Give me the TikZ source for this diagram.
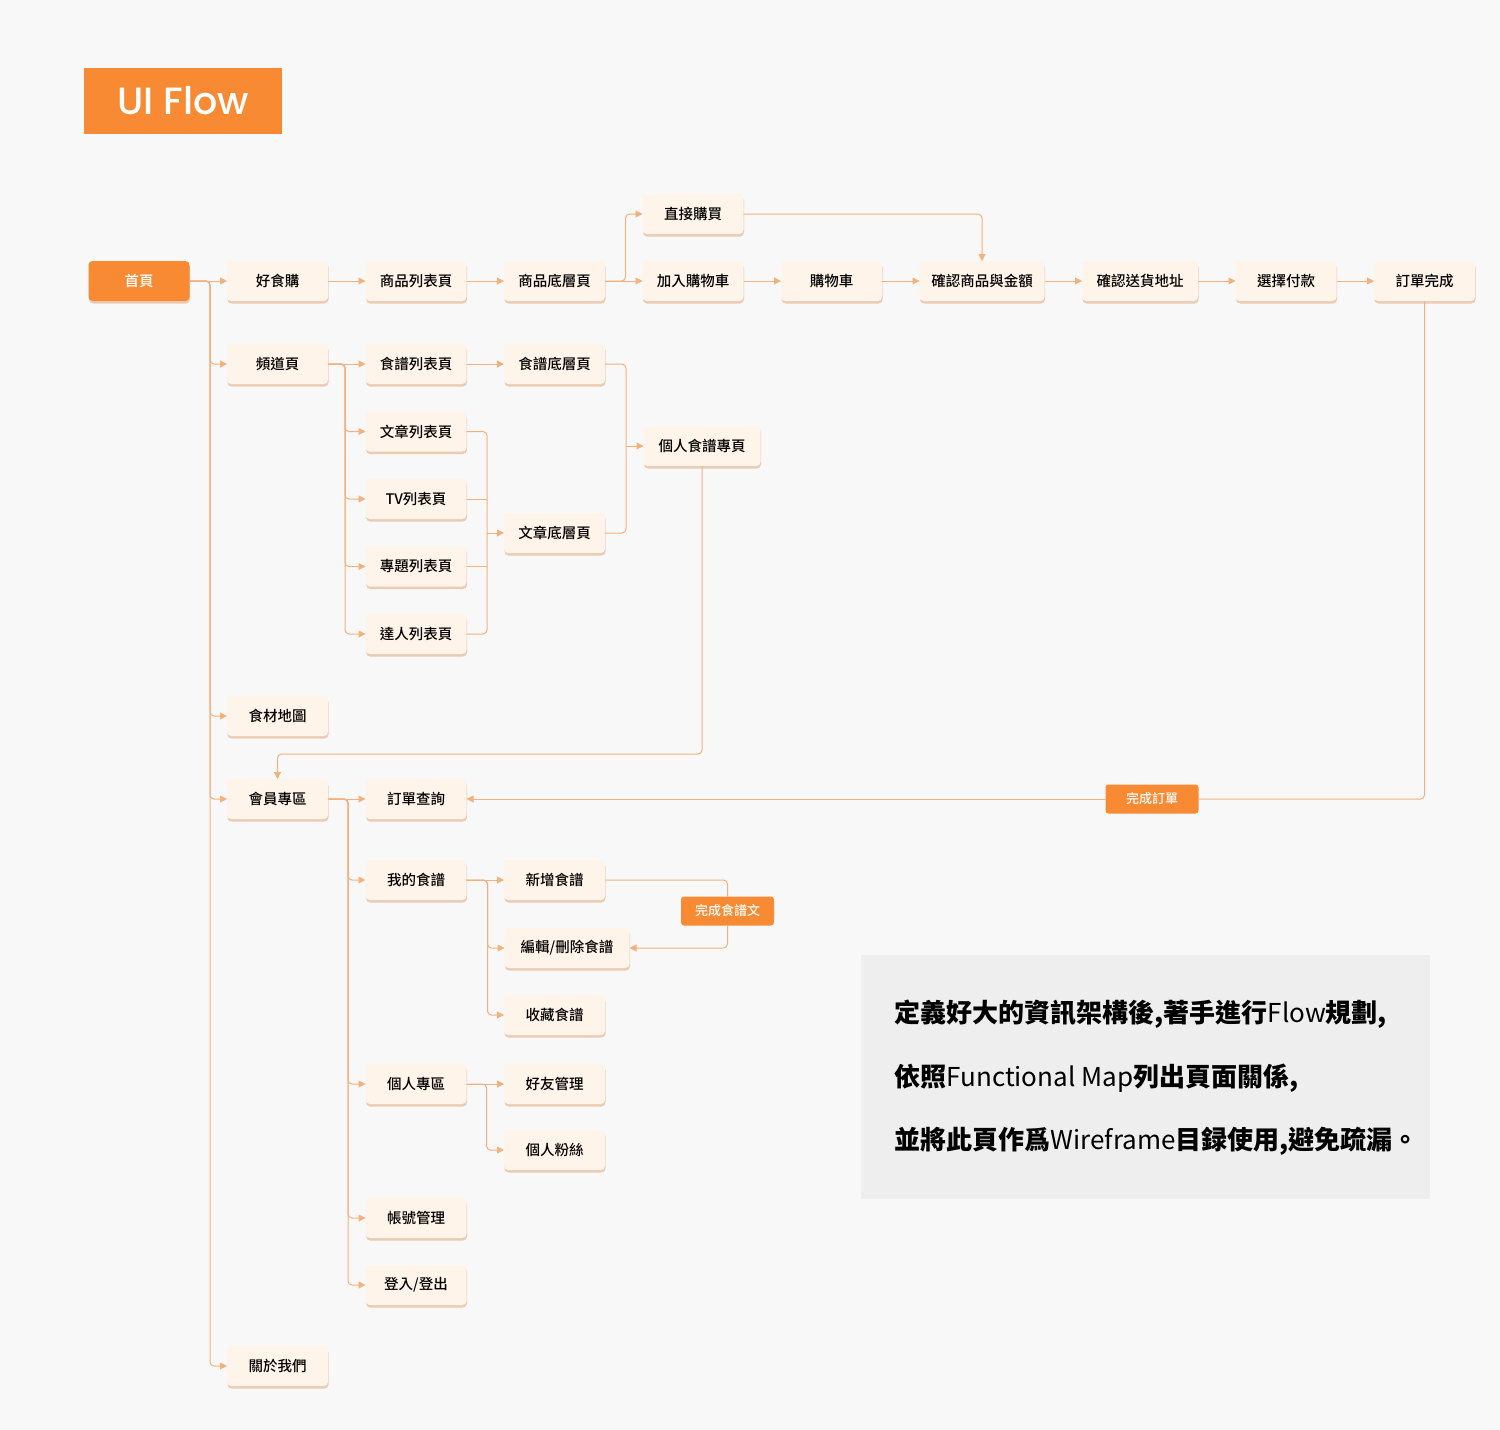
\documentclass[tikz,border=0pt]{standalone}
\usepackage{fontspec}
\setmainfont{Noto Sans CJK TC}
\newfontfamily\medfont{Noto Sans CJK TC Medium}
\newfontfamily\titlefont{Poppins Medium}
\usetikzlibrary{arrows.meta, positioning, shadows}

\definecolor{bgcol}{HTML}{F8F8F8}
\definecolor{orangecol}{HTML}{F98A34}
\definecolor{boxcol}{HTML}{FFF4E9}
\definecolor{linkcol}{HTML}{F5B17C}
\definecolor{shadecol}{HTML}{E9C7AC}
\definecolor{notecol}{HTML}{EEEEEE}

\begin{document}
\begin{tikzpicture}[
        x=1pt, y=-1pt,
        node distance=37.5pt,
        box/.style={rectangle, rounded corners=4pt, outer sep=0pt, fill=boxcol, minimum width=101pt, minimum height=40pt, font=\medfont\fontsize{14.5}{16}\selectfont, drop shadow={shadow xshift=0.5pt, shadow yshift=-2.5pt, fill=shadecol, opacity=0.9}},
        startbox/.style={box, fill=orangecol, text=white},
        tag/.style={rectangle, rounded corners=3pt, outer sep=0pt, fill=orangecol, text=white, minimum width=93pt, minimum height=29pt, font=\medfont\fontsize{13}{15}\selectfont},
        link/.style={draw=linkcol, line width=1pt, rounded corners=4pt},
        flow/.style={link, -{Triangle[length=7pt, width=7pt]}}
    ]

    % Background
    \useasboundingbox (0,0) rectangle (1500,1430);
    \fill[bgcol] (0,0) rectangle (1500,1430);

    % Title
    \node[fill=orangecol, minimum width=198pt, minimum height=66pt, text=white, font=\titlefont\fontsize{38}{42}\selectfont] (title) at (183,101) {UI Flow};

    % Nodes
    \node[startbox] (home) at (139,281) {首頁};
    \node[box, right=of home] (shop) {好食購};
    \node[box, right=of shop] (plist) {商品列表頁};
    \node[box, right=of plist] (pdetail) {商品底層頁};
    \node[box, right=of pdetail] (addcart) {加入購物車};
    \node[box, above=27pt of addcart] (direct) {直接購買};
    \node[box, right=of addcart] (cart) {購物車};
    \node[box, minimum width=125pt, right=of cart] (confirm) {確認商品與金額};
    \node[box, minimum width=116pt, right=of confirm] (address) {確認送貨地址};
    \node[box, right=of address] (pay) {選擇付款};
    \node[box, right=of pay] (done) {訂單完成};

    \node[box, below=43pt of shop] (channel) {頻道頁};
    \node[box, right=of channel] (recipelist) {食譜列表頁};
    \node[box, right=of recipelist] (recipedetail) {食譜底層頁};
    \node[box, below=27.5pt of recipelist] (articlelist) {文章列表頁};
    \node[box, below=27.5pt of articlelist] (tvlist) {TV列表頁};
    \node[box, below=27.5pt of tvlist] (topiclist) {專題列表頁};
    \node[box, below=27.5pt of topiclist] (expertlist) {達人列表頁};
    \node[box] (articledetail) at (554.5,533) {文章底層頁};
    \node[box, minimum width=117pt] (recipepage) at (702,446) {個人食譜專頁};

    \node[box] (map) at (277.5,716) {食材地圖};
    \node[box] (member) at (277.5,799) {會員專區};
    \node[box, right=of member] (orderq) {訂單查詢};
    \node[box] (myrec) at (416,880) {我的食譜};
    \node[box, right=of myrec] (newrec) {新增食譜};
    \node[box, minimum width=125pt] (editrec) at (567,948) {編輯/刪除食譜};
    \node[box] (collect) at (554.5,1015) {收藏食譜};
    \node[box] (personal) at (416,1084) {個人專區};
    \node[box, right=of personal] (friends) {好友管理};
    \node[box] (fans) at (554.5,1150) {個人粉絲};
    \node[box] (account) at (416,1218) {帳號管理};
    \node[box] (login) at (416,1285) {登入/登出};
    \node[box] (about) at (277.5,1366) {關於我們};

    \node[tag] (ordertag) at (1152,799) {完成訂單};
    \node[tag] (rectag) at (727.5,911) {完成食譜文};

    \coordinate (artjoin) at (487,533);
    \coordinate (recjoin) at (626,446);

    % Main row
    \draw[flow] (home) -- (shop);
    \draw[flow] (shop) -- (plist);
    \draw[flow] (plist) -- (pdetail);
    \draw[flow] (pdetail) -- (addcart);
    \draw[flow] (pdetail.east) -- ++(20.5,0) |- (direct.west);
    \draw[flow] (addcart) -- (cart);
    \draw[flow] (cart) -- (confirm);
    \draw[flow] (direct.east) -| (confirm.north);
    \draw[flow] (confirm) -- (address);
    \draw[flow] (address) -- (pay);
    \draw[flow] (pay) -- (done);
    \draw[link] (done.south) |- (ordertag.east);
    \draw[flow] (ordertag.west) -- (orderq.east);

    % Home branches
    \draw[flow] (home.east) -- ++(20.5,0) |- (channel.west);
    \draw[flow] (home.east) -- ++(20.5,0) |- (map.west);
    \draw[flow] (home.east) -- ++(20.5,0) |- (member.west);
    \draw[flow] (home.east) -- ++(20.5,0) |- (about.west);

    % Channel
    \draw[flow] (channel) -- (recipelist);
    \draw[flow] (recipelist) -- (recipedetail);
    \draw[flow] (channel.east) -- ++(17,0) |- (articlelist.west);
    \draw[flow] (channel.east) -- ++(17,0) |- (tvlist.west);
    \draw[flow] (channel.east) -- ++(17,0) |- (topiclist.west);
    \draw[flow] (channel.east) -- ++(17,0) |- (expertlist.west);
    \draw[link] (articlelist.east) -| (artjoin);
    \draw[link] (expertlist.east) -| (artjoin);
    \draw[link] (tvlist.east) -- (tvlist.east -| artjoin);
    \draw[link] (topiclist.east) -- (topiclist.east -| artjoin);
    \draw[flow] (artjoin) -- (articledetail);
    \draw[link] (recipedetail.east) -| (recjoin);
    \draw[link] (articledetail.east) -| (recjoin);
    \draw[flow] (recjoin) -- (recipepage);
    \draw[flow] (recipepage.south) -- ++(0,288) -| (member.north);

    % Member
    \draw[flow] (member) -- (orderq);
    \draw[flow] (member.east) -- ++(20,0) |- (myrec.west);
    \draw[flow] (member.east) -- ++(20,0) |- (personal.west);
    \draw[flow] (member.east) -- ++(20,0) |- (account.west);
    \draw[flow] (member.east) -- ++(20,0) |- (login.west);
    \draw[flow] (myrec) -- (newrec);
    \draw[flow] (myrec.east) -- ++(21,0) |- (editrec.west);
    \draw[flow] (myrec.east) -- ++(21,0) |- (collect.west);
    \draw[link] (newrec.east) -| (rectag.north);
    \draw[flow] (rectag.south) |- (editrec.east);
    \draw[flow] (personal) -- (friends);
    \draw[flow] (personal.east) -- ++(20,0) |- (fans.west);

    % Note
    \fill[notecol] (861,955) rectangle (1430,1199);
    \node[anchor=west, align=left, font=\fontsize{26}{63.5}\selectfont] (notetext) at (891,1078) {\textbf{定義好大的資訊架構後,著手進行}Flow\textbf{規劃,}\\\textbf{依照}Functional Map\textbf{列出頁面關係,}\\\textbf{並將此頁作爲}Wireframe\textbf{目録使用,避免疏漏。}};

\end{tikzpicture}
\end{document}
